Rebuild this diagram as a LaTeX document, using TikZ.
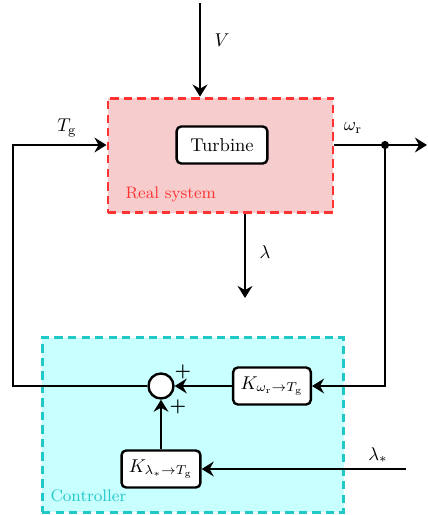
\documentclass[tikz,border=0pt]{standalone}
\usetikzlibrary{arrows.meta}
\definecolor{syspink}{RGB}{246,204,204}
\definecolor{sysred}{RGB}{255,51,51}
\definecolor{ctrlcyan}{RGB}{200,255,255}
\definecolor{ctrlline}{RGB}{32,200,200}
\begin{document}
\begin{tikzpicture}[x=0.54pt,y=-0.54pt,
	wire/.style={line width=1.3pt},
	sig/.style={wire,-{Stealth[length=6.5pt,width=8pt,inset=2.2pt]}},
	regionbox/.style={dashed,dash pattern=on 4.5pt off 2.8pt,line width=1.6pt,inner sep=0pt},
	blockbox/.style={draw,line width=1.3pt,rounded corners=2.5pt,fill=white,minimum height=20pt,inner sep=4pt},
	sumnode/.style={draw,circle,line width=1.3pt,fill=white,minimum size=13.5pt,inner sep=0pt}]
	\useasboundingbox (0,0) rectangle (427,515);
	% real system
	\node[regionbox,draw=sysred,fill=syspink,minimum width=121.5pt,minimum height=62pt] (sys) at (220.5,155.5) {};
	\node[text=sysred,anchor=west,font=\small] (syslab) at (119,194) {Real system};
	\node[blockbox,minimum width=49pt] (turb) at (222,145) {Turbine};
	% controller
	\node[regionbox,draw=ctrlline,fill=ctrlcyan,minimum width=163pt,minimum height=94pt] (ctrl) at (193,425) {};
	\node[text=ctrlline,anchor=west,font=\small] (ctrllab) at (44,496) {Controller};
	\node[sumnode] (sum) at (161,386) {};
	\node[blockbox,minimum width=41pt] (kw) at (272,386) {$K_{\omega_\mathrm{r}\to T_\mathrm{g}}$};
	\node[blockbox,minimum width=40pt] (kl) at (161,469) {$K_{\lambda_*\to T_\mathrm{g}}$};
	% signals
	\coordinate (vin) at (200,3);
	\coordinate (lout) at (245,298);
	\coordinate (wout) at (427,145);
	\coordinate (lin) at (406,469);
	\coordinate (branch) at (385,145);
	\coordinate (fbl) at (13,386);
	\draw[sig] (vin) -- (vin |- sys.north);
	\node (vlab) at (222,40) {$V$};
	\draw[sig] (lout |- sys.south) -- (lout);
	\node (llab) at (265,252) {$\lambda$};
	\draw[sig] (sys.east |- branch) -- (wout);
	\fill (branch) circle (2.2pt);
	\node (wlab) at (353,128) {$\omega_\mathrm{r}$};
	\draw[sig] (branch) |- (kw.east);
	\draw[sig] (kw.west) -- (sum.east);
	\draw[sig] (kl.north) -- (sum.south);
	\draw[sig] (lin) -- (kl.east);
	\node (lslab) at (378,455) {$\lambda_*$};
	\draw[sig] (sum.west) -- (fbl) |- (sys.west |- branch);
	\node (tglab) at (67,128) {$T_\mathrm{g}$};
	\node[font=\bfseries] (plus1) at (183,372) {+};
	\node[font=\bfseries] (plus2) at (178,407) {+};
\end{tikzpicture}
\end{document}
